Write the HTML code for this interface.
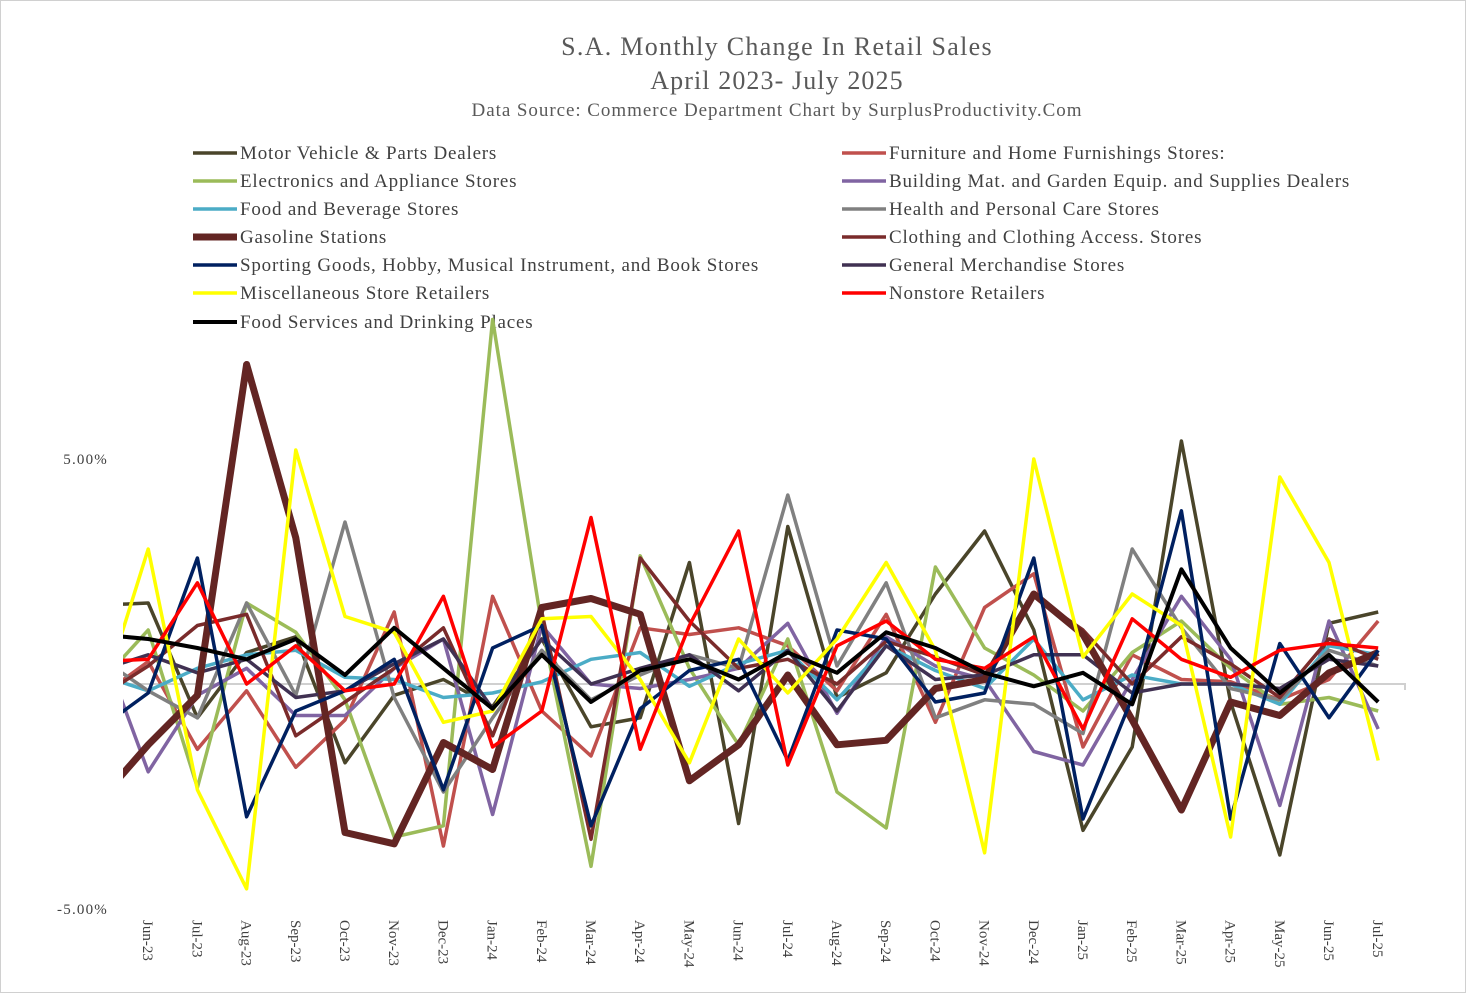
<!DOCTYPE html>
<html><head><meta charset="utf-8"><style>
body{margin:0;background:#fff}
svg{display:block;font-family:"Liberation Serif",serif}
</style></head><body>
<svg id="chart" width="1466" height="993" viewBox="0 0 1466 993">
<rect x="0.5" y="0.5" width="1465" height="992" fill="#fff" stroke="#d0d0d0"/>
<text x="777" y="55" text-anchor="middle" font-size="26" letter-spacing="1.3" fill="#595959">S.A. Monthly Change In Retail Sales</text>
<text x="777" y="89" text-anchor="middle" font-size="26" letter-spacing="1.1" fill="#595959">April 2023- July 2025</text>
<text x="777" y="116" text-anchor="middle" font-size="19" letter-spacing="0.95" fill="#595959">Data Source: Commerce Department  Chart by SurplusProductivity.Com</text>
<g id="legend"></g>
<g id="axes"></g>
<defs><clipPath id="plotclip"><rect x="123" y="300" width="1290" height="620"/></clipPath></defs>
<g id="series" clip-path="url(#plotclip)"></g>
</svg>
<script>
const categories=["May-23","Jun-23","Jul-23","Aug-23","Sep-23","Oct-23","Nov-23","Dec-23","Jan-24","Feb-24","Mar-24","Apr-24","May-24","Jun-24","Jul-24","Aug-24","Sep-24","Oct-24","Nov-24","Dec-24","Jan-25","Feb-25","Mar-25","Apr-25","May-25","Jun-25","Jul-25"];
const yTicks=[5,-5];
const yTickLabels=["5.00%","-5.00%"];
const motor=[1.75,1.8,-0.75,0.7,1.05,-1.75,-0.25,0.1,-0.5,1.0,-0.95,-0.75,2.7,-3.1,3.5,-0.3,0.25,2.0,3.4,1.2,-3.25,-1.4,5.4,-0.4,-3.8,1.35,1.6];
const furniture=[-0.3,0.5,-1.45,-0.15,-1.85,-0.8,1.6,-3.6,1.95,-0.6,-1.6,1.25,1.1,1.25,0.85,-0.15,1.55,-0.85,1.7,2.45,-1.4,0.65,0.1,0.05,-0.35,0.1,1.4];
const electronics=[0,1.2,-2.3,1.8,1.15,-0.35,-3.4,-3.15,8.1,1.3,-4.05,2.85,0.35,-1.35,1.0,-2.4,-3.2,2.6,0.8,0.2,-0.6,0.7,1.4,0.35,-0.45,-0.3,-0.6];
const building=[1.0,-1.95,-0.25,0.35,-0.7,-0.7,0.35,1.0,-2.9,1.3,0.0,-0.1,0.1,0.35,1.35,-0.65,1.05,0.4,0.1,-1.5,-1.8,0.1,1.95,0.55,-2.7,1.4,-1.0];
const foodBev=[0.2,-0.15,0.35,0.65,0.75,0.15,0.1,-0.3,-0.2,0.05,0.55,0.7,-0.05,0.45,0.75,-0.35,0.85,0.3,-0.1,1.0,-0.35,0.2,0,0,-0.45,0.85,0.65];
const health=[0.6,-0.15,-0.75,1.8,-0.25,3.6,-0.3,-2.4,-0.75,0.75,-0.35,0.2,0.65,0.35,4.2,0.4,2.25,-0.75,-0.35,-0.45,-1.1,3.0,1.25,-0.1,-0.35,0.75,0.4];
const gasoline=[-2.6,-1.35,-0.25,7.1,3.25,-3.3,-3.55,-1.3,-1.9,1.7,1.9,1.55,-2.15,-1.35,0.2,-1.35,-1.25,-0.1,0.1,2.0,1.1,-0.8,-2.8,-0.4,-0.7,0.25,0.7];
const clothing=[-0.3,0.4,1.3,1.55,-1.15,-0.4,0.35,1.25,-1.15,1.6,-3.45,2.8,1.4,0.35,0.55,0,0.95,0.6,0.2,1.95,1.2,0,1.05,0.45,-0.3,1.0,0.55];
const sporting=[-1.0,-0.2,2.8,-2.95,-0.6,-0.15,0.55,-2.35,0.8,1.3,-3.15,-0.55,0.3,0.55,-1.7,1.2,1.0,-0.4,-0.2,2.8,-3.0,-0.3,3.85,-3.0,0.9,-0.75,0.75];
const generalMerch=[0.3,0.65,0.25,0.55,-0.3,-0.15,0.45,1.0,-0.55,1.0,0,0.35,0.65,-0.15,0.75,-0.6,0.85,0.1,0.2,0.65,0.65,-0.2,0,0,-0.1,0.55,0.4];
const misc=[-0.5,3.0,-2.35,-4.55,5.2,1.5,1.15,-0.85,-0.6,1.45,1.5,0.1,-1.75,1.0,-0.2,1.0,2.7,0.75,-3.75,5.0,0.6,2.0,1.3,-3.4,4.6,2.7,-1.7];
const nonstore=[0.5,0.55,2.25,0,0.85,-0.15,0,1.95,-1.4,-0.6,3.7,-1.45,1.3,3.4,-1.8,0.85,1.4,0.55,0.35,1.05,-1.0,1.45,0.55,0.15,0.75,0.9,0.8];
const foodServices=[1.1,1.0,0.8,0.55,1.0,0.2,1.25,0.35,-0.55,0.65,-0.4,0.3,0.55,0.1,0.7,0.25,1.15,0.8,0.25,-0.05,0.25,-0.45,2.55,0.8,-0.2,0.65,-0.4];

const NS="http://www.w3.org/2000/svg";
function xPos(i){return 99+i*49.2;}
function yPos(v){return 684-v*45;}
const series=[
 {name:"Motor Vehicle & Parts Dealers",d:motor,c:"#4a452a",w:3.5,col:0,row:0,key:"motor-vehicle"},
 {name:"Furniture and Home Furnishings Stores:",d:furniture,c:"#c0504d",w:3.5,col:1,row:0,key:"furniture"},
 {name:"Electronics and Appliance Stores",d:electronics,c:"#9bbb59",w:3.5,col:0,row:1,key:"electronics"},
 {name:"Building Mat. and Garden Equip. and Supplies Dealers",d:building,c:"#8064a2",w:3.5,col:1,row:1,key:"building-materials"},
 {name:"Food and Beverage Stores",d:foodBev,c:"#4bacc6",w:3.5,col:0,row:2,key:"food-beverage"},
 {name:"Health and Personal Care Stores",d:health,c:"#808080",w:3.5,col:1,row:2,key:"health-personal-care"},
 {name:"Clothing and Clothing Access. Stores",d:clothing,c:"#7a2b2b",w:3.5,col:1,row:3,key:"clothing"},
 {name:"General Merchandise Stores",d:generalMerch,c:"#403152",w:3.5,col:1,row:4,key:"general-merchandise"},
 {name:"Gasoline Stations",d:gasoline,c:"#632523",w:7,col:0,row:3,key:"gasoline"},
 {name:"Sporting Goods, Hobby, Musical Instrument, and Book Stores",d:sporting,c:"#002060",w:3.5,col:0,row:4,key:"sporting-goods"},
 {name:"Miscellaneous Store Retailers",d:misc,c:"#ffff00",w:3.5,col:0,row:5,key:"miscellaneous"},
 {name:"Nonstore Retailers",d:nonstore,c:"#ff0000",w:3.5,col:1,row:5,key:"nonstore"},
 {name:" Food Services and Drinking Places",d:foodServices,c:"#000000",w:4,col:0,row:6,key:"food-services"}
];
const axes=document.getElementById('axes');
const zl=document.createElementNS(NS,'path');
zl.setAttribute('d','M123 '+yPos(0)+'H1405v6');
zl.setAttribute('stroke','#d0d0d0');zl.setAttribute('stroke-width','2');zl.setAttribute('fill','none');


axes.appendChild(zl);
yTicks.forEach((v,i)=>{
 const t=document.createElementNS(NS,'text');
 t.setAttribute('x',108);t.setAttribute('y',yPos(v)+5);t.setAttribute('text-anchor','end');
 t.setAttribute('font-size','15');t.setAttribute('letter-spacing','1.2');t.setAttribute('fill','#404040');
 t.textContent=yTickLabels[i];
 
 
 axes.appendChild(t);
});
categories.forEach((c,i)=>{
 if(i===0)return;
 const t=document.createElementNS(NS,'text');
 const x=xPos(i);
 t.setAttribute('transform','translate('+(x-5)+',920) rotate(90)');
 t.setAttribute('font-size','15');t.setAttribute('fill','#404040');
 t.textContent=c;
 
 
 axes.appendChild(t);
});
const sg=document.getElementById('series');
series.forEach(s=>{
 const p=document.createElementNS(NS,'polyline');
 p.setAttribute('points',s.d.map((v,i)=>xPos(i).toFixed(1)+','+yPos(v).toFixed(1)).join(' '));
 p.setAttribute('fill','none');p.setAttribute('stroke',s.c);p.setAttribute('stroke-width',s.w);
 p.setAttribute('stroke-linejoin','round');
 
 
 sg.appendChild(p);
});
const lg=document.getElementById('legend');
series.forEach(s=>{
 const x0=s.col?842:193, y=153+s.row*28+(s.row===6?1:0);
 const l=document.createElementNS(NS,'line');
 l.setAttribute('x1',x0);l.setAttribute('x2',x0+44);l.setAttribute('y1',y);l.setAttribute('y2',y);
 l.setAttribute('stroke',s.c);l.setAttribute('stroke-width',s.w);
 
 
 lg.appendChild(l);
 const t=document.createElementNS(NS,'text');
 t.setAttribute('x',x0+47);t.setAttribute('y',y+6);t.setAttribute('font-size','19');t.setAttribute('letter-spacing','0.8');t.setAttribute('fill','#404040');
 t.setAttribute('xml:space','preserve');
 t.textContent=s.name;
 
 
 lg.appendChild(t);
});
</script>
</body></html>
